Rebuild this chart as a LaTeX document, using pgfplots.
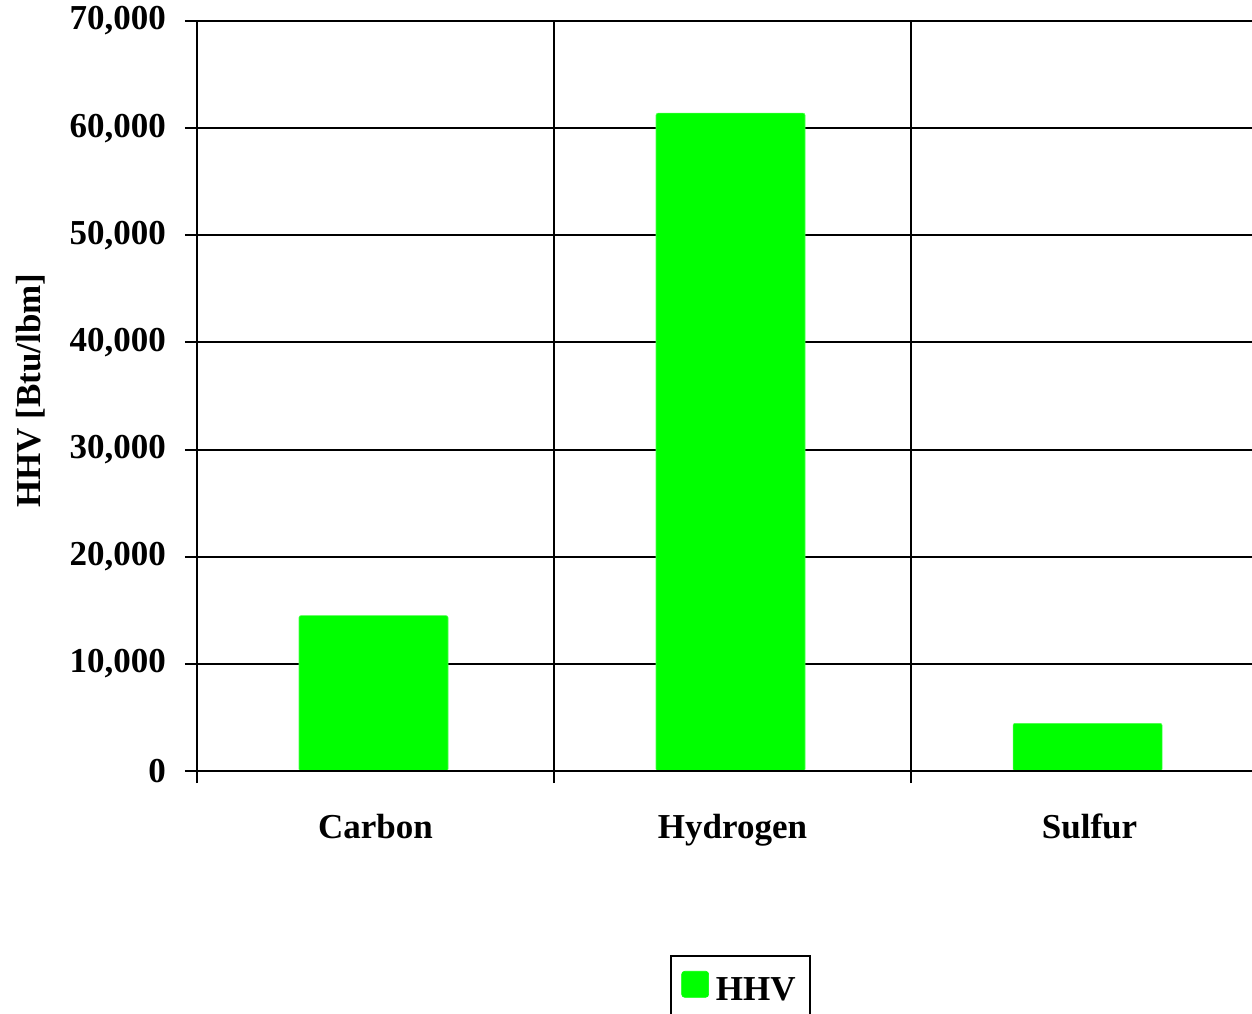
\documentclass[border=0pt]{standalone}
\usepackage{fontspec}
\setmainfont{Liberation Serif}
\usepackage{pgfplots}
\pgfplotsset{compat=1.18}

\definecolor{barfill}{RGB}{0,255,0}
\newcommand{\lblfont}{\bfseries\fontsize{17.5}{21}\selectfont}

\begin{document}
\begin{tikzpicture}
\begin{axis}[
    at={(0,0)}, anchor=south west,
    scale only axis,
    width=527.5pt, height=375pt,
    xmin=-0.5, xmax=2.455,
    ymin=0, ymax=70000,
    axis x line*=bottom, axis y line*=left,
    axis line style={line width=1pt, black},
    ytick={0,10000,...,70000},
    xtick={-0.5,0.5,1.5},
    xticklabels={},
    extra x ticks={0,1,2},
    extra x tick labels={Carbon,Hydrogen,Sulfur},
    extra x tick style={major tick length=0pt, grid=none,
        xticklabel style={yshift=-18pt}},
    tick align=outside,
    major tick length=6pt,
    tick style={line width=1pt, black},
    grid=major,
    major grid style={line width=1pt, black},
    yticklabel style={font=\lblfont, xshift=-6pt,
        /pgf/number format/assume math mode=true},
    xticklabel style={font=\lblfont},
    /pgf/number format/.cd, fixed, 1000 sep={,},
    /pgfplots/.cd,
    scaled y ticks=false,
    ylabel={HHV [Btu/lbm]},
    ylabel style={font=\lblfont, at={(axis description cs:-0.158,0.507)}, anchor=center},
    legend style={at={(axis description cs:0.5152,-0.2453)}, anchor=north,
        draw=black, line width=1pt, font=\lblfont,
        inner xsep=5pt, inner ysep=7.5pt,
        legend cell align=left},
    legend image code/.code={
        \fill[barfill, rounded corners=1.5pt] (0pt,-3.5pt) rectangle (13.5pt,9.5pt);
    },
]
\addplot[ybar, bar width=74.5pt, bar shift=-1pt, fill=barfill, draw=barfill!70!white,
    line width=0.3pt, rounded corners=1pt]
    coordinates {(0,14500) (1,61400) (2,4450)};
\addlegendentry{\hspace{1.5pt}HHV\rule[-10pt]{0pt}{1pt}}
\draw[line width=1pt, black] (rel axis cs:0,0) -- (rel axis cs:1,0);
\end{axis}
\pgfresetboundingbox
\useasboundingbox (-98.5pt,-121pt) rectangle (527.5pt,385.5pt);
\end{tikzpicture}
\end{document}
